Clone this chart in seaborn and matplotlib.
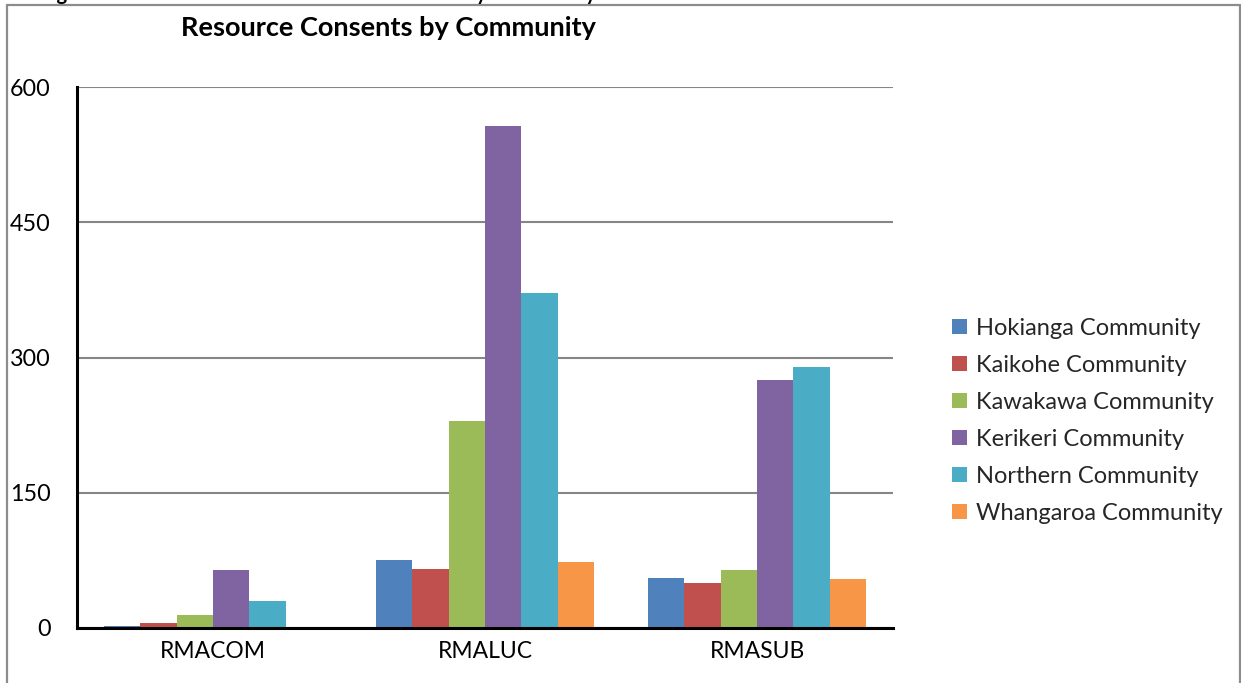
import matplotlib
matplotlib.use("Agg")
import matplotlib.pyplot as plt
import seaborn as sns
import pandas as pd
from matplotlib.lines import Line2D

# Consent types on the x axis
consent_types = ["RMACOM", "RMALUC", "RMASUB"]

# Number of consents per community, one value per consent type
hokianga = [2, 75, 55]
kaikohe = [5, 65, 50]
kawakawa = [14, 230, 64]
kerikeri = [64, 557, 275]
northern = [30, 372, 290]
whangaroa = [0, 73, 54]

communities = ["Hokianga Community", "Kaikohe Community", "Kawakawa Community",
               "Kerikeri Community", "Northern Community", "Whangaroa Community"]
colors = ["#4F81BD", "#C0504D", "#9BBB59", "#8064A2", "#4BACC6", "#F79646"]
y_ticks = [0, 150, 300, 450, 600]

series = [hokianga, kaikohe, kawakawa, kerikeri, northern, whangaroa]
rows = []
for name, vals in zip(communities, series):
    for ctype, v in zip(consent_types, vals):
        rows.append({"Type": ctype, "Community": name, "Count": v})
df = pd.DataFrame(rows)

sns.set_theme(style="white")
plt.rcParams["font.family"] = ["Lato", "DejaVu Sans"]

W, H = 1241, 683
fig = plt.figure(figsize=(W / 100, H / 100), dpi=100)
ax = fig.add_axes([77 / W, 1 - 628 / H, (893 - 77) / W, (628 - 87) / H])

sns.barplot(data=df, x="Type", y="Count", hue="Community", order=consent_types,
            hue_order=communities, palette=colors, width=0.8, saturation=1,
            edgecolor="none", ax=ax, legend=True)

ax.set_ylim(0, 600)
ax.set_yticks(y_ticks)
ax.set_yticklabels([str(t) for t in y_ticks])
ax.set_xlabel("")
ax.set_ylabel("")
ax.yaxis.grid(True, color="#868686", linewidth=1.5)
ax.set_axisbelow(True)
for s in ["top", "right"]:
    ax.spines[s].set_visible(False)
for s in ["left", "bottom"]:
    ax.spines[s].set_color("black")
    ax.spines[s].set_linewidth(2.2)
ax.tick_params(axis="y", length=0, pad=19, labelsize=16.8, labelcolor="black")
ax.tick_params(axis="x", length=0, pad=9, labelsize=16.5, labelcolor="black")
for lab in ax.get_yticklabels():
    lab.set_horizontalalignment("right")

# Legend on the right
handles, labels = ax.get_legend_handles_labels()
ax.legend(handles, labels, loc="center left", bbox_to_anchor=(943 / W, 1 - 421 / H),
          bbox_transform=fig.transFigure, frameon=False, fontsize=17,
          handlelength=0.6, handleheight=0.6, handletextpad=0.4, labelspacing=0.68,
          borderaxespad=0)

# Chart title
fig.text(388 / W, 1 - 28 / H, "Resource Consents by Community", ha="center",
         va="center", fontsize=19.5, fontweight="bold", color="black")

# Caption above the chart frame
fig.text(596 / W, 1.0, "Figure 14: Total Number of Resource Consents by Community",
         ha="right", va="baseline", fontsize=14.5, fontweight="bold", color="black")

# Chart frame
frame_kw = dict(color="#8C8C8C", linewidth=1.6, transform=fig.transFigure)
fig.add_artist(Line2D([7 / W, 7 / W], [0, 1 - 5 / H], **frame_kw))
fig.add_artist(Line2D([7 / W, 1239.5 / W], [1 - 5 / H, 1 - 5 / H], **frame_kw))
fig.add_artist(Line2D([1239.5 / W, 1239.5 / W], [0, 1 - 5 / H], **frame_kw))

fig.savefig("out.png", dpi=100)
